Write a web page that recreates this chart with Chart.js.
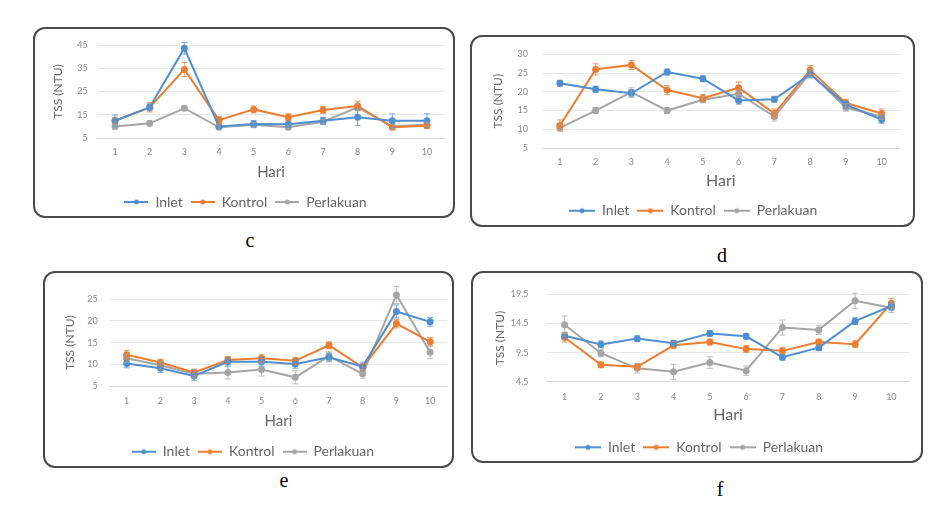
<!DOCTYPE html>
<html><head><meta charset="utf-8">
<script src="https://cdn.jsdelivr.net/npm/chart.js@4.4.0/dist/chart.umd.min.js"></script>
<style>
html,body{margin:0;padding:0;background:#fff;width:941px;height:520px;overflow:hidden;position:relative;}
.box{position:absolute;border:2px solid #4a4a4a;border-radius:12px;box-sizing:border-box;background:#fff;}
.wrap{position:absolute;}
.lab{position:absolute;font-family:"Liberation Serif","Times New Roman",serif;font-size:20px;line-height:20px;color:#000;transform:translateX(-50%);}
</style></head><body>
<div class="lab" style="left:250px;top:230px">c</div>
<div class="lab" style="left:722px;top:245px">d</div>
<div class="lab" style="left:284px;top:470px">e</div>
<div class="lab" style="left:720px;top:479px">f</div>
<script>
// ---- shared ----
const days = ['1','2','3','4','5','6','7','8','9','10'];
const seriesNames = ['Inlet','Kontrol','Perlakuan'];
const seriesColors = ['#4f8fd0','#ed7d31','#a5a5a5'];

// ---- panel c ----
const cInlet    = [12.4, 18.2, 43.6, 9.9, 11.0, 10.9, 12.4, 13.9, 12.4, 12.4];
const cKontrol  = [12.4, 18.2, 34.5, 12.7, 17.3, 13.9, 17.0, 18.8, 9.6, 10.3];
const cPerl     = [9.9, 11.3, 17.8, 9.6, 10.7, 9.6, 12.0, 18.2, 10.0, 10.8];
const cInletErr   = [2.5, 1.5, 2.5, 1.0, 1.5, 1.5, 1.5, 3.5, 3.0, 3.0];
const cKontrolErr = [1.5, 2.0, 3.0, 1.5, 1.5, 1.5, 1.5, 2.0, 1.0, 1.0];
const cPerlErr    = [1.0, 1.0, 1.0, 1.0, 1.0, 1.0, 1.0, 1.5, 1.0, 1.0];
const cYAxis = [5, 45, 10];

// ---- panel d ----
const dInlet    = [22.3, 20.7, 19.6, 25.3, 23.5, 17.7, 18.0, 24.7, 16.6, 12.6];
const dKontrol  = [11.0, 26.0, 27.2, 20.5, 18.3, 21.1, 14.2, 25.8, 17.0, 14.2];
const dPerl     = [10.4, 15.0, 19.9, 15.0, 17.9, 19.5, 13.4, 25.0, 15.8, 13.4];
const dInletErr   = [0.8, 0.8, 1.0, 0.8, 0.8, 1.0, 0.8, 1.0, 1.0, 1.0];
const dKontrolErr = [1.5, 1.5, 1.2, 1.2, 1.0, 1.5, 1.2, 1.2, 1.0, 1.2];
const dPerlErr    = [0.8, 0.8, 1.2, 0.8, 0.8, 1.0, 1.2, 1.0, 1.0, 0.8];
const dYAxis = [5, 30, 5];

// ---- panel e ----
const eInlet    = [10.2, 9.1, 7.3, 10.6, 10.6, 10.1, 11.6, 9.5, 22.2, 19.8];
const eKontrol  = [12.2, 10.4, 8.1, 11.0, 11.4, 10.8, 14.4, 9.3, 19.4, 15.2];
const ePerl     = [11.4, 9.8, 7.8, 8.1, 8.8, 7.0, 11.9, 7.8, 26.0, 12.8];
const eInletErr   = [1.0, 1.0, 1.0, 1.0, 1.0, 1.0, 1.0, 1.0, 1.5, 1.0];
const eKontrolErr = [1.0, 0.8, 0.8, 0.8, 0.8, 0.8, 0.8, 0.8, 1.0, 1.0];
const ePerlErr    = [1.0, 1.0, 1.0, 1.5, 1.5, 1.5, 1.0, 1.0, 2.0, 1.5];
const eYAxis = [5, 25, 5];

// ---- panel f ----
const fInlet    = [12.4, 10.9, 11.9, 11.1, 12.8, 12.3, 8.7, 10.35, 14.9, 17.5];
const fKontrol  = [12.1, 7.4, 7.05, 10.75, 11.3, 10.1, 9.8, 11.3, 10.95, 18.0];
const fPerl     = [14.3, 9.4, 6.8, 6.2, 7.8, 6.4, 13.8, 13.4, 18.4, 17.2];
const fInletErr   = [0.6, 0.6, 0.5, 0.5, 0.5, 0.5, 0.5, 0.5, 0.6, 0.6];
const fKontrolErr = [0.8, 0.5, 0.5, 0.6, 0.5, 0.6, 0.5, 0.5, 0.6, 0.8];
const fPerlErr    = [1.5, 0.6, 0.8, 1.3, 1.0, 0.8, 1.3, 0.8, 1.3, 0.8];
const fYAxis = [4.5, 19.5, 5];

Chart.defaults.font.family = 'Lato, "Open Sans", sans-serif';

// legend symbol: short line with a marker, like the spreadsheet legend
function legendSymbol(color, w) {
  const c = document.createElement('canvas');
  c.width = w; c.height = 8;
  const x = c.getContext('2d');
  x.strokeStyle = color; x.fillStyle = color; x.lineWidth = 2;
  x.beginPath(); x.moveTo(0, 4); x.lineTo(w, 4); x.stroke();
  x.beginPath(); x.arc(w / 2, 4, 2.5, 0, Math.PI * 2); x.fill();
  return c;
}

const errPlugin = {
  id: 'errbars',
  afterDatasetsDraw(chart) {
    const ctx = chart.ctx, ys = chart.scales.y;
    chart.data.datasets.forEach((ds, i) => {
      if (!ds.errs) return;
      const meta = chart.getDatasetMeta(i);
      ctx.save();
      ctx.strokeStyle = ds.borderColor;
      ctx.globalAlpha = 0.75;
      ctx.lineWidth = 1;
      meta.data.forEach((pt, j) => {
        const v = ds.data[j], e = ds.errs[j];
        const y1 = ys.getPixelForValue(v + e), y2 = ys.getPixelForValue(v - e);
        ctx.beginPath();
        ctx.moveTo(pt.x, y1); ctx.lineTo(pt.x, y2);
        ctx.moveTo(pt.x - 3, y1); ctx.lineTo(pt.x + 3, y1);
        ctx.moveTo(pt.x - 3, y2); ctx.lineTo(pt.x + 3, y2);
        ctx.stroke();
      });
      ctx.restore();
    });
  }
};

function panel(box, plot, g, series, errs, yAxis) {
  const [bx, by, bw, bh] = box;
  const border = document.createElement('div');
  border.className = 'box';
  Object.assign(border.style, {left: bx + 'px', top: by + 'px', width: bw + 'px', height: bh + 'px'});
  document.body.appendChild(border);
  const cx = bx, cy = by, cw = bw, ch = bh + 12;
  const wrap = document.createElement('div');
  wrap.className = 'wrap';
  Object.assign(wrap.style, {left: cx + 'px', top: cy + 'px', width: cw + 'px', height: ch + 'px'});
  const canvas = document.createElement('canvas');
  wrap.appendChild(canvas);
  document.body.appendChild(wrap);

  const [l, r, t, b] = plot;
  const lhY = g.yTitleFs * 1.2;
  const padL = g.yTitleX - cx - 4 - lhY / 2;
  const yW = l - cx - padL;
  const padT = t - cy, padR = cx + cw - r;
  const p = 8;
  const H = g.legendY - g.legFs / 2 - p - b;
  const lhX = g.hariFs * 1.2;
  const titlePadB = b + H - g.hariY - lhX / 2;
  const padB = cy + ch - b - H - g.legFs - p - 10;
  const xTickPad = g.xTickY - b - 5.4;
  const symbols = seriesColors.map(c => legendSymbol(c, g.legBox));

  new Chart(canvas, {
    type: 'line',
    data: {
      labels: days,
      datasets: series.map((d, i) => ({
        label: seriesNames[i], data: d, errs: errs[i],
        borderColor: seriesColors[i], backgroundColor: seriesColors[i],
        borderWidth: 2, pointRadius: 2.5, pointHoverRadius: 2.5, tension: 0, clip: false
      }))
    },
    options: {
      responsive: true, maintainAspectRatio: false, animation: false,
      layout: {padding: {left: padL, right: padR, top: padT, bottom: padB}},
      plugins: {
        tooltip: {enabled: false},
        legend: {
          position: 'bottom',
          labels: {
            usePointStyle: true, pointStyleWidth: g.legBox, boxHeight: 2, padding: p, color: '#666',
            font: {size: g.legFs},
            generateLabels(chart) {
              return Chart.defaults.plugins.legend.labels.generateLabels(chart)
                .map((it, i) => Object.assign(it, {lineWidth: 0, pointStyle: symbols[i]}));
            }
          }
        }
      },
      scales: {
        x: {
          offset: true,
          grid: {display: false, drawTicks: false},
          border: {display: true, color: '#d9d9d9'},
          ticks: {padding: xTickPad, color: '#8a8a8a', font: {size: 9}, maxRotation: 0, autoSkip: false},
          title: {display: true, text: 'Hari', color: '#666', font: {size: g.hariFs}, padding: {top: 0, bottom: titlePadB}},
          afterFit(s) { s.height = H; }
        },
        y: {
          min: yAxis[0], max: yAxis[1],
          ticks: {stepSize: yAxis[2], padding: g.yGap, color: '#8a8a8a', font: {size: 9}},
          grid: {color: '#e8e8e8', drawTicks: false},
          border: {display: false},
          title: {display: true, text: 'TSS (NTU)', color: '#666', font: {size: g.yTitleFs}, padding: {top: 4, bottom: 4}},
          afterFit(s) { s.width = yW; }
        }
      }
    },
    plugins: [errPlugin]
  });
}

panel([33, 27, 422, 191], [97.7, 444.3, 45, 138],
  {yTitleX: 58, yTitleFs: 12, xTickY: 152, hariY: 172, hariFs: 15, legendY: 202, legFs: 14, legBox: 24, yGap: 10},
  [cInlet, cKontrol, cPerl], [cInletErr, cKontrolErr, cPerlErr], cYAxis);

panel([470, 35, 445, 192], [542, 899.5, 45, 148],
  {yTitleX: 498, yTitleFs: 12, xTickY: 161.7, hariY: 180.7, hariFs: 16, legendY: 210.7, legFs: 14, legBox: 26, yGap: 14},
  [dInlet, dKontrol, dPerl], [dInletErr, dKontrolErr, dPerlErr], dYAxis);

panel([43, 271, 411, 197], [109.8, 447, 299.3, 386],
  {yTitleX: 70, yTitleFs: 12, xTickY: 400.7, hariY: 420.7, hariFs: 15, legendY: 451.7, legFs: 14, legBox: 24, yGap: 12},
  [eInlet, eKontrol, ePerl], [eInletErr, eKontrolErr, ePerlErr], eYAxis);

panel([471, 271, 452, 192], [546.5, 909.5, 283.3, 381.7],
  {yTitleX: 499.7, yTitleFs: 12, xTickY: 396.7, hariY: 415, hariFs: 16, legendY: 447.3, legFs: 14, legBox: 26, yGap: 18},
  [fInlet, fKontrol, fPerl], [fInletErr, fKontrolErr, fPerlErr], fYAxis);
</script>
</body></html>
